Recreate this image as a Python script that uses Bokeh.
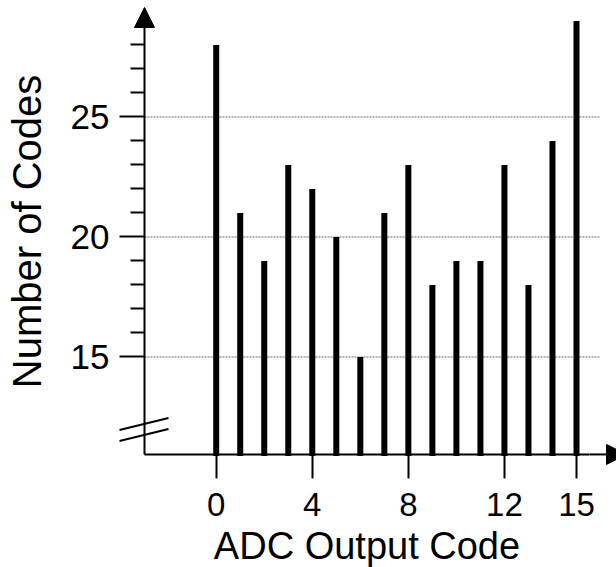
from bokeh.plotting import figure
from bokeh.models import Range1d, FixedTicker, PolyAnnotation
from bokeh.embed import file_html
from bokeh.resources import INLINE

# Data
codes = list(range(16))
counts = [28, 21, 19, 23, 22, 20, 15, 21, 23, 18, 19, 19, 23, 18, 24, 29]
x_tick_values = [0, 4, 8, 12, 15]
y_tick_values = [15, 20, 25]
y_minor_values = [16, 17, 18, 19, 21, 22, 23, 24, 26, 27, 28]
grid_values = [15, 20, 25]

PX = 1 / 24.02   # one pixel in x units
PY = 1 / 24.0    # one pixel in y units
AX = -2.985      # where the y axis crosses
AY = 10.94       # where the x axis crosses
X0, X1 = AX - 144 * PX, AX + 472 * PX
Y1 = 29.854
Y0 = Y1 - 567 * PY
FONT = "Liberation Sans"

p = figure(width=616, height=567, output_backend="svg", toolbar_location=None,
           x_range=Range1d(X0, X1), y_range=Range1d(Y0, Y1),
           min_border_left=0, min_border_right=0, min_border_top=0, min_border_bottom=0)
p.outline_line_color = None
p.grid.visible = False
p.background_fill_color = "white"

# grid lines
p.segment(x0=[AX] * len(grid_values), x1=[codes[-1] + 1] * len(grid_values),
          y0=grid_values, y1=grid_values, line_color="#666666", line_width=1, line_dash="2 1")

# bars
p.vbar(x=codes, top=counts, bottom=AY - 1.5 * PY, width=0.25, fill_color="black", line_color=None)

# axes (drawn at fixed data positions)
xa = p.xaxis[0]
xa.fixed_location = AY
xa.bounds = (AX, 15.545)
xa.ticker = FixedTicker(ticks=x_tick_values, minor_ticks=[])
xa.axis_line_width = 2
xa.major_tick_line_width = 2
xa.major_tick_in = 0
xa.major_tick_out = 24
xa.minor_tick_line_color = None
xa.major_label_text_font = FONT
xa.major_label_text_font_size = "33px"
xa.major_label_text_color = "black"
xa.major_label_standoff = 15
xa.axis_label = "ADC Output Code"
xa.axis_label_text_font = FONT
xa.axis_label_text_font_size = "38px"
xa.axis_label_text_font_style = "normal"
xa.axis_label_text_color = "black"
xa.axis_label_standoff = 5

ya = p.yaxis[0]
ya.fixed_location = AX
ya.bounds = (AY, 29.5)
ya.ticker = FixedTicker(ticks=y_tick_values, minor_ticks=y_minor_values)
ya.axis_line_width = 2
ya.major_tick_line_width = 2
ya.minor_tick_line_width = 2
ya.major_tick_in = 0
ya.major_tick_out = 25
ya.minor_tick_in = 0
ya.minor_tick_out = 14
ya.major_label_text_font = FONT
ya.major_label_text_font_size = "35px"
ya.major_label_text_color = "black"
ya.major_label_standoff = 10
ya.axis_label = "Number of Codes"
ya.axis_label_text_font = FONT
ya.axis_label_text_font_size = "40px"
ya.axis_label_text_font_style = "normal"
ya.axis_label_text_color = "black"
ya.axis_label_standoff = 19

# rest of the x axis line up to the arrow head
p.segment(x0=[15.545], x1=[X1], y0=[AY], y1=[AY], line_color="black", line_width=2)

# axis arrow heads
p.add_layout(PolyAnnotation(xs=[AX - 10 * PX, AX, AX + 10 * PX], ys=[Y1 - 27 * PY, Y1 - 7 * PY, Y1 - 27 * PY],
                            fill_color="black", fill_alpha=1, line_color="black", line_alpha=1, line_width=1))
p.add_layout(PolyAnnotation(xs=[16.25, 16.25 + 20 * PX, 16.25], ys=[AY - 10 * PY, AY, AY + 10 * PY],
                            fill_color="black", fill_alpha=1, line_color="black", line_alpha=1, line_width=1))

# axis break marks
for ys, ye in [(11.96, 12.46), (11.5, 12.0)]:
    p.add_layout(PolyAnnotation(xs=[AX - 25 * PX, AX + 24 * PX], ys=[ys, ye],
                                fill_color=None, fill_alpha=0, line_color="black", line_alpha=1,
                                line_width=2))

open("out.html", "w").write(file_html(p, INLINE))
